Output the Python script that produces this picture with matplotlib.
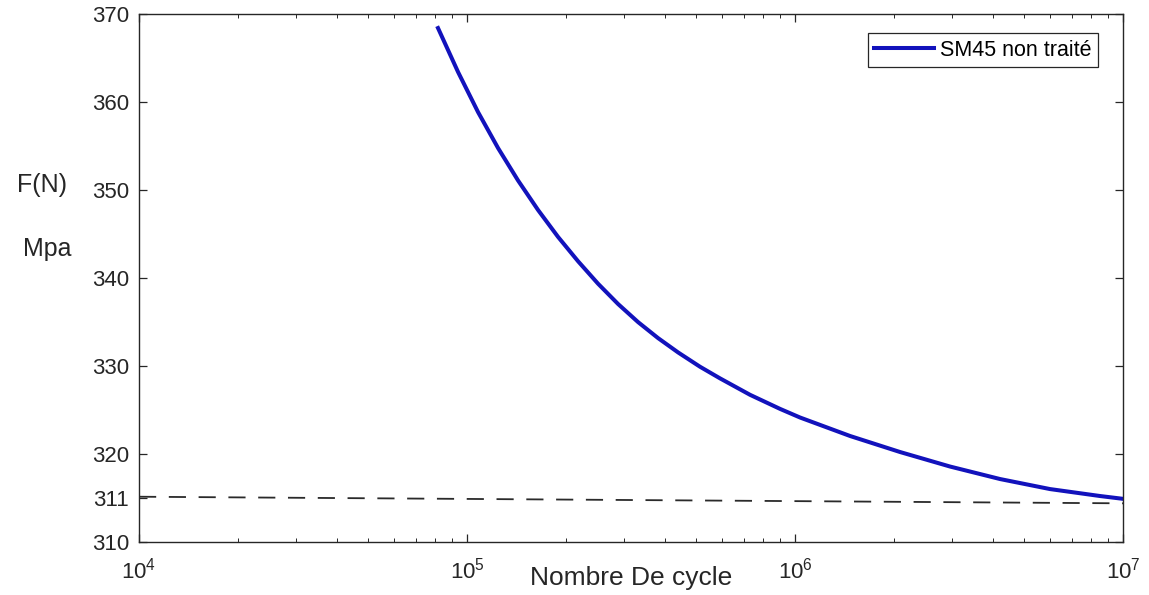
import matplotlib
matplotlib.use('Agg')
import matplotlib.pyplot as plt
from matplotlib.ticker import LogLocator, NullFormatter

plt.rcParams['font.family'] = ['Liberation Sans', 'DejaVu Sans']
plt.rcParams['mathtext.default'] = 'regular'

# fatigue curve
cycles = [81560, 93900, 108030, 124340, 143040, 164650, 189400, 218000, 250800,
          288700, 332100, 382200, 439900, 513300, 590600, 729300, 900300,
          1.036e6, 1.472e6, 2.090e6, 2.969e6, 4.217e6, 5.989e6, 8.510e6, 1.0e7]
stress = [368.41, 363.41, 358.86, 354.77, 351.09, 347.73, 344.68, 341.91, 339.36,
          337.05, 335.0, 333.18, 331.55, 329.92, 328.60, 326.73, 325.13,
          324.15, 322.05, 320.23, 318.58, 317.16, 316.02, 315.23, 314.91]

# dashed reference line
ref_cycles = [1e4, 1e7]
ref_stress = [315.15, 314.4]

ytick_pos = [310, 315, 320, 330, 340, 350, 360, 370]
ytick_lbl = ['310', '311', '320', '330', '340', '350', '360', '370']

txt = '#262626'

fig = plt.figure(figsize=(11.49, 5.95), dpi=100)
ax = fig.add_axes([0.121, 0.089, 0.8564, 0.8874])

ax.plot(cycles, stress, color='#1212bc', lw=2.9, label='SM45 non traité',
        solid_joinstyle='round')
dash, = ax.plot(ref_cycles, ref_stress, color='#2a2a2a', lw=1.3)
dash.set_dashes((9.5, 7))

ax.set_xscale('log')
ax.set_xlim(1e4, 1e7)
ax.set_ylim(310, 370)
ax.set_yticks(ytick_pos)
ax.set_yticklabels(ytick_lbl)
ax.xaxis.set_major_locator(LogLocator(base=10, numticks=10))
ax.xaxis.set_minor_locator(LogLocator(base=10, subs=range(2, 10), numticks=30))
ax.xaxis.set_minor_formatter(NullFormatter())

ax.tick_params(which='both', direction='in', top=True, right=True, colors=txt,
               labelcolor=txt)
ax.tick_params(which='major', length=6, width=0.9)
ax.tick_params(which='minor', length=3, width=0.7)
ax.tick_params(axis='y', labelsize=16, pad=7)
ax.tick_params(axis='x', labelsize=16, pad=11)
for s in ax.spines.values():
    s.set_color(txt)
    s.set_linewidth(1.0)

ax.set_xlabel('Nombre De cycle', fontsize=19, color=txt)
ax.xaxis.set_label_coords(0.5, -0.045)
ax.text(-0.0986, 0.676, 'F(N)', transform=ax.transAxes, fontsize=18, color=txt,
        ha='center', va='center')
ax.text(-0.0935, 0.555, 'Mpa', transform=ax.transAxes, fontsize=18, color=txt,
        ha='center', va='center')

leg = ax.legend(loc='upper right', bbox_to_anchor=(0.9743, 0.9634), borderaxespad=0,
                fontsize=15.5, handlelength=2.8, handletextpad=0.25, borderpad=0.3,
                fancybox=False, framealpha=1, edgecolor=txt)
leg.get_frame().set_linewidth(0.9)

fig.savefig('out.png', dpi=100)
